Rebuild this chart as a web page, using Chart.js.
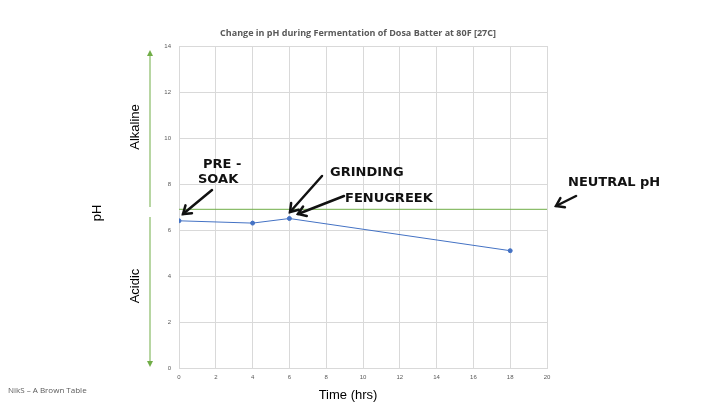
<!DOCTYPE html>
<html>
<head>
<meta charset="utf-8">
<script src="https://cdn.jsdelivr.net/npm/chart.js@4"></script>
<style>
  html, body { margin: 0; padding: 0; background: #fff; }
  #wrap { width: 720px; height: 405px; }
</style>
</head>
<body>
<div id="wrap"><canvas id="phChart" width="720" height="405"></canvas></div>
<script>
// data
const hours = [0, 4, 6, 18];
const phValues = [6.4, 6.3, 6.5, 5.1];
const neutralPh = 6.9;
const xTicks = [0, 2, 4, 6, 8, 10, 12, 14, 16, 18, 20];
const yTicks = [0, 2, 4, 6, 8, 10, 12, 14];

const notes = [
  { text: 'PRE -', x: 203, y: 168 },
  { text: 'SOAK', x: 198, y: 183 },
  { text: 'GRINDING', x: 330, y: 176 },
  { text: 'FENUGREEK', x: 345, y: 202 },
  { text: 'NEUTRAL pH', x: 568, y: 186 }
];

const arrows = [
  [[212, 190], [183, 214]],
  [[322, 176], [290, 212]],
  [[344, 196], [298, 214]],
  [[576, 196], [556, 206]]
];

const extras = {
  id: 'extras',
  afterDraw(chart) {
    const c = chart.ctx;
    c.save();
    // title
    c.fillStyle = '#595959';
    c.font = 'bold 9px "Open Sans"';
    c.textAlign = 'center';
    c.fillText('Change in pH during Fermentation of Dosa Batter at 80F [27C]', 358, 36);
    // axis titles
    c.fillStyle = '#000';
    c.font = '13px "Liberation Sans"';
    c.fillText('Time (hrs)', 348, 399);
    c.save();
    c.translate(101, 213); c.rotate(-Math.PI / 2); c.fillText('pH', 0, 0); c.restore();
    c.save();
    c.translate(139, 127); c.rotate(-Math.PI / 2); c.fillText('Alkaline', 0, 0); c.restore();
    c.save();
    c.translate(139, 286); c.rotate(-Math.PI / 2); c.fillText('Acidic', 0, 0); c.restore();
    // green double arrow
    c.strokeStyle = '#70ad47'; c.fillStyle = '#70ad47'; c.lineWidth = 1;
    c.beginPath(); c.moveTo(150, 52); c.lineTo(150, 207); c.stroke();
    c.beginPath(); c.moveTo(150, 217); c.lineTo(150, 364); c.stroke();
    c.beginPath(); c.moveTo(150, 50); c.lineTo(147, 56); c.lineTo(153, 56); c.fill();
    c.beginPath(); c.moveTo(150, 367); c.lineTo(147, 361); c.lineTo(153, 361); c.fill();
    // footer
    c.fillStyle = '#595959';
    c.font = '8px "Open Sans"'; c.textAlign = 'left';
    c.fillText('NikS \u2013 A Brown Table', 8, 393);
    // handwritten notes
    c.fillStyle = '#111';
    c.font = 'bold 13px "DejaVu Sans"';
    notes.forEach(n => c.fillText(n.text, n.x, n.y));
    c.strokeStyle = '#111'; c.lineWidth = 2.5; c.lineCap = 'round';
    arrows.forEach(([a, b]) => {
      c.beginPath(); c.moveTo(a[0], a[1]); c.lineTo(b[0], b[1]); c.stroke();
      const ang = Math.atan2(b[1] - a[1], b[0] - a[0]);
      c.beginPath();
      c.moveTo(b[0] - 9 * Math.cos(ang - 0.6), b[1] - 9 * Math.sin(ang - 0.6));
      c.lineTo(b[0], b[1]);
      c.lineTo(b[0] - 9 * Math.cos(ang + 0.6), b[1] - 9 * Math.sin(ang + 0.6));
      c.stroke();
    });
    c.restore();
  }
};

document.addEventListener('DOMContentLoaded', () => {
  const ctx = document.getElementById('phChart');
  new Chart(ctx.getContext('2d'), {
    type: 'scatter',
    data: {
      datasets: [
        {
          data: hours.map((h, i) => ({ x: h, y: phValues[i] })),
          showLine: true,
          borderColor: '#4472c4',
          backgroundColor: '#4472c4',
          borderWidth: 1,
          pointRadius: 2
        },
        {
          data: [{ x: 0, y: neutralPh }, { x: 20, y: neutralPh }],
          showLine: true,
          borderColor: '#70ad47',
          borderWidth: 1,
          pointRadius: 0
        }
      ]
    },
    options: {
      responsive: false,
      animation: false,
      layout: { padding: { top: 46, right: 173, left: 0, bottom: 0 } },
      plugins: { legend: { display: false }, tooltip: { enabled: false } },
      scales: {
        x: {
          type: 'linear', min: 0, max: 20,
          afterBuildTicks: s => { s.ticks = xTicks.map(v => ({ value: v })); },
          afterFit: s => { s.height = 37; },
          grid: { color: '#d9d9d9', drawTicks: false },
          border: { color: '#d9d9d9' },
          ticks: { color: '#595959', font: { size: 6 }, padding: 6 }
        },
        y: {
          min: 0, max: 14,
          afterBuildTicks: s => { s.ticks = yTicks.map(v => ({ value: v })); },
          afterFit: s => { s.width = 179; },
          grid: { color: '#d9d9d9', drawTicks: false },
          border: { color: '#d9d9d9' },
          ticks: { color: '#595959', font: { size: 6 }, padding: 8 }
        }
      }
    },
    plugins: [extras]
  });
});
</script>
</body>
</html>
